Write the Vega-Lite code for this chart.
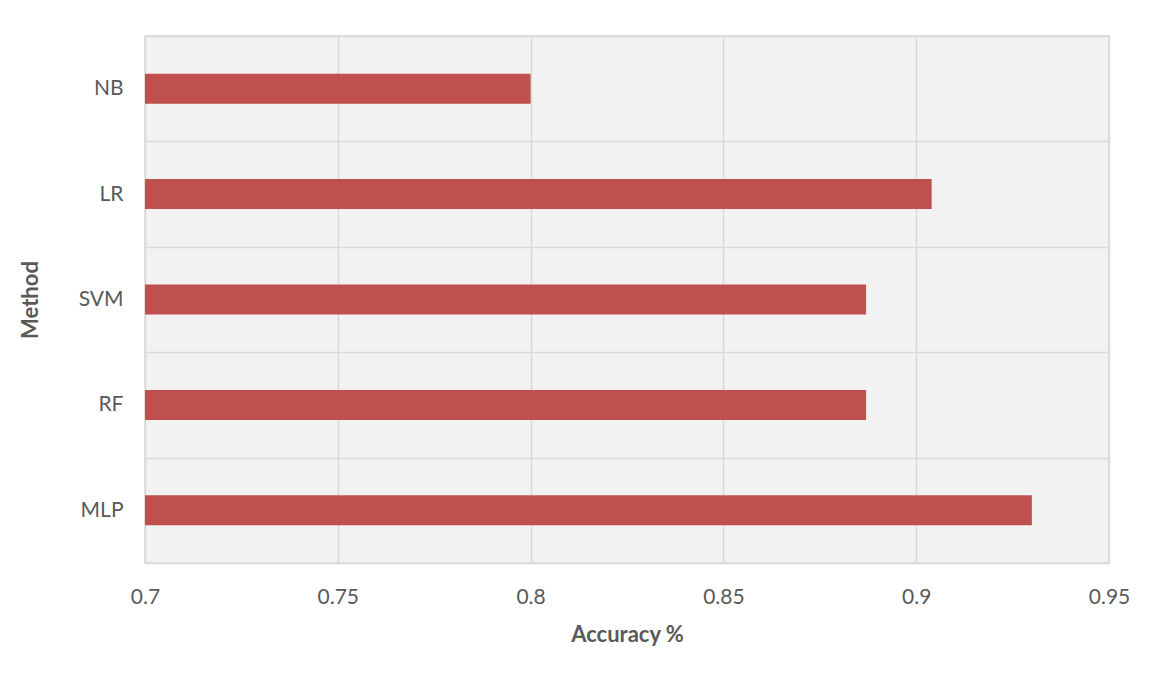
{
  "$schema": "https://vega.github.io/schema/vega-lite/v6.json",
  "width": 964,
  "height": 527,
  "autosize": {"type": "none"},
  "padding": {"left": 145, "top": 36, "right": 42, "bottom": 110},
  "background": "white",
  "data": {
    "values": [
      {"method": "NB", "accuracy": 0.800},
      {"method": "LR", "accuracy": 0.904},
      {"method": "SVM", "accuracy": 0.887},
      {"method": "RF", "accuracy": 0.887},
      {"method": "MLP", "accuracy": 0.930}
    ]
  },
  "mark": {"type": "bar", "color": "#c0504d", "clip": true, "height": {"band": 0.285}},
  "encoding": {
    "y": {
      "field": "method",
      "type": "nominal",
      "sort": null,
      "scale": {"paddingInner": 0, "paddingOuter": 0},
      "axis": {
        "title": "Method",
        "domain": false,
        "ticks": false,
        "tickBand": "extent",
        "grid": true,
        "gridColor": "#d9d9d9",
        "gridWidth": 1.5,
        "labelFont": "Lato",
        "labelFontSize": 21,
        "labelColor": "#595959",
        "labelPadding": 22,
        "titleFont": "Lato",
        "titleFontSize": 22,
        "titleFontWeight": "bold",
        "titleColor": "#595959",
        "titleX": -115,
        "titleY": 263.5,
        "titleAlign": "center",
        "titleBaseline": "middle",
        "titleAngle": -90
      }
    },
    "x": {
      "field": "accuracy",
      "type": "quantitative",
      "scale": {"domain": [0.7, 0.95], "zero": false, "nice": false},
      "axis": {
        "title": "Accuracy %",
        "values": [0.7, 0.75, 0.8, 0.85, 0.9, 0.95],
        "format": ".2~f",
        "domain": false,
        "ticks": false,
        "grid": true,
        "gridColor": "#d9d9d9",
        "gridWidth": 1.5,
        "labelFont": "Lato",
        "labelFontSize": 21,
        "labelColor": "#595959",
        "labelBaseline": "alphabetic",
        "labelPadding": 40,
        "labelFlush": false,
        "titleFont": "Lato",
        "titleFontSize": 22,
        "titleFontWeight": "bold",
        "titleColor": "#595959",
        "titleX": 482,
        "titleY": 78.5,
        "titleAlign": "center",
        "titleBaseline": "alphabetic"
      }
    },
    "x2": {"datum": 0.7}
  },
  "config": {
    "view": {"stroke": "#d9d9d9", "strokeWidth": 1.5, "fill": "#f2f2f2"}
  }
}
